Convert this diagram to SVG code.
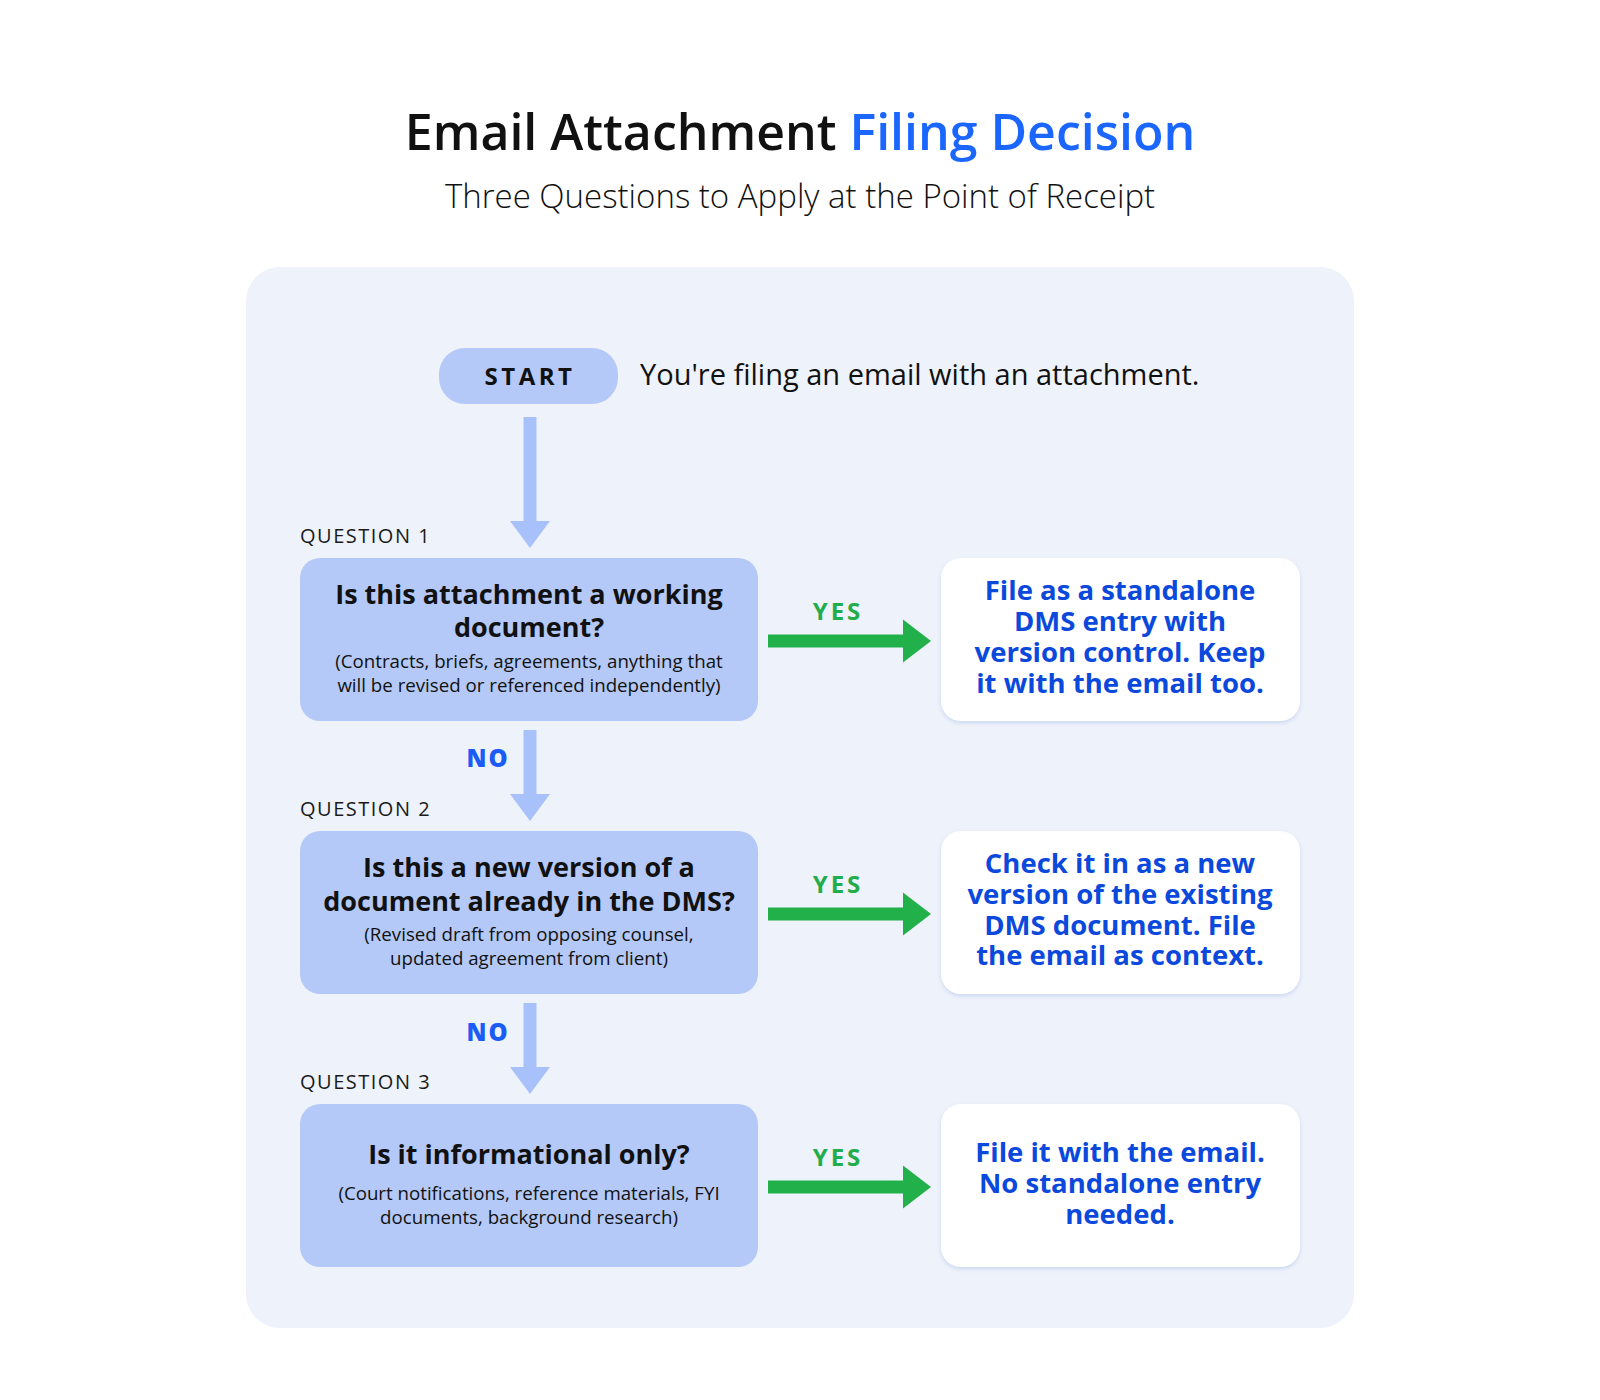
<svg xmlns="http://www.w3.org/2000/svg" width="1600" height="1400" viewBox="0 0 1600 1400">
<defs>
<filter id="sh" x="-10%" y="-10%" width="120%" height="130%">
<feDropShadow dx="0" dy="2" stdDeviation="2" flood-color="#9fb6e8" flood-opacity="0.45"/>
</filter>
<style>
text{font-family:"Open Sans","DejaVu Sans",sans-serif}
.title{font-size:50px;font-weight:600;fill:#111111}
.sub{font-size:33px;font-weight:300;fill:#111111}
.q{fill:#b4c9f8}
.res{fill:#ffffff;filter:url(#sh)}
.qlab{font-size:20px;font-weight:400;letter-spacing:1.5px;fill:#1a1a1a}
.qt{font-size:27px;font-weight:700;fill:#111111;text-anchor:middle}
.qs{font-size:18.7px;font-weight:400;fill:#111111;text-anchor:middle}
.rt{font-size:27.5px;font-weight:700;fill:#0b48dc;text-anchor:middle}
.no{font-size:24px;font-weight:800;fill:#1a5cf5;letter-spacing:2px;text-anchor:middle}
.yes{font-size:24px;font-weight:700;fill:#22ad4a;letter-spacing:3px;text-anchor:middle}
.blue{fill:#a9c1fb}
.green{fill:#22b04b}
</style>
</defs>
<rect width="1600" height="1400" fill="#ffffff"/>
<rect x="246" y="267" width="1108" height="1061" rx="34" fill="#eef2fa"/>
<text class="title" x="800" y="150" text-anchor="middle">Email Attachment <tspan fill="#1a66ff">Filing Decision</tspan></text>
<text class="sub" x="800" y="208" text-anchor="middle">Three Questions to Apply at the Point of Receipt</text>

<g id="start">
<rect x="439" y="348" width="179" height="56" rx="26" fill="#b4c9f8"/>
<text x="530" y="385" text-anchor="middle" font-size="24" font-weight="700" letter-spacing="3.5" fill="#111111">START</text>
<text x="640" y="385" font-size="29" font-weight="500" fill="#111111">You're filing an email with an attachment.</text>
</g>

<g id="q1">
<text class="qlab" x="300" y="543">QUESTION 1</text>
<rect class="q" x="300" y="558" width="458" height="163" rx="20"/>
<text class="qt" x="529" y="604">Is this attachment a working</text>
<text class="qt" x="529" y="637">document?</text>
<text class="qs" x="529" y="668">(Contracts, briefs, agreements, anything that</text>
<text class="qs" x="529" y="692">will be revised or referenced independently)</text>
</g>

<g id="q2">
<text class="qlab" x="300" y="816">QUESTION 2</text>
<rect class="q" x="300" y="831" width="458" height="163" rx="20"/>
<text class="qt" x="529" y="877">Is this a new version of a</text>
<text class="qt" x="529" y="911">document already in the DMS?</text>
<text class="qs" x="529" y="941">(Revised draft from opposing counsel,</text>
<text class="qs" x="529" y="965">updated agreement from client)</text>
</g>

<g id="q3">
<text class="qlab" x="300" y="1089">QUESTION 3</text>
<rect class="q" x="300" y="1104" width="458" height="163" rx="20"/>
<text class="qt" x="529" y="1164">Is it informational only?</text>
<text class="qs" x="529" y="1200">(Court notifications, reference materials, FYI</text>
<text class="qs" x="529" y="1224">documents, background research)</text>
</g>

<g id="r1">
<rect class="res" x="941" y="558" width="359" height="163" rx="20"/>
<text class="rt" x="1120" y="600">File as a standalone</text>
<text class="rt" x="1120" y="631">DMS entry with</text>
<text class="rt" x="1120" y="662">version control. Keep</text>
<text class="rt" x="1120" y="693">it with the email too.</text>
</g>

<g id="r2">
<rect class="res" x="941" y="831" width="359" height="163" rx="20"/>
<text class="rt" x="1120" y="873">Check it in as a new</text>
<text class="rt" x="1120" y="904">version of the existing</text>
<text class="rt" x="1120" y="935">DMS document. File</text>
<text class="rt" x="1120" y="965">the email as context.</text>
</g>

<g id="r3">
<rect class="res" x="941" y="1104" width="359" height="163" rx="20"/>
<text class="rt" x="1120" y="1162">File it with the email.</text>
<text class="rt" x="1120" y="1193">No standalone entry</text>
<text class="rt" x="1120" y="1224">needed.</text>
</g>

<g id="connectors">
<polygon class="blue" points="523.5,417 536.5,417 536.5,521 550,521 530,548 510,521 523.5,521"/>
<polygon class="blue" points="523.5,730 536.5,730 536.5,794 550,794 530,821 510,794 523.5,794"/>
<polygon class="blue" points="523.5,1003 536.5,1003 536.5,1067 550,1067 530,1094 510,1067 523.5,1067"/>
<text class="no" x="488" y="767">NO</text>
<text class="no" x="488" y="1041">NO</text>
<polygon class="green" points="768,634.5 903,634.5 903,619.5 931,641 903,662.5 903,647.5 768,647.5"/>
<polygon class="green" points="768,907.5 903,907.5 903,892.5 931,914 903,935.5 903,920.5 768,920.5"/>
<polygon class="green" points="768,1180.5 903,1180.5 903,1165.5 931,1187 903,1208.5 903,1193.5 768,1193.5"/>
<text class="yes" x="838" y="620">YES</text>
<text class="yes" x="838" y="893">YES</text>
<text class="yes" x="838" y="1166">YES</text>
</g>
</svg>
